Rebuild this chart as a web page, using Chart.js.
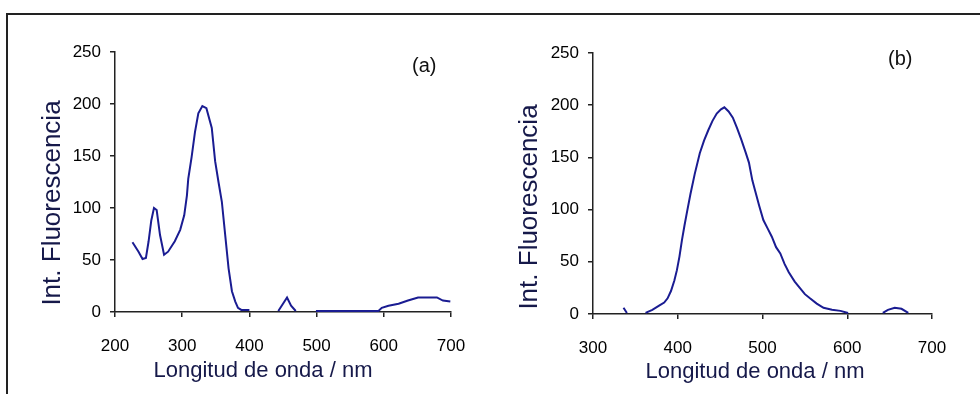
<!DOCTYPE html>
<html>
<head>
<meta charset="utf-8">
<script src="https://cdn.jsdelivr.net/npm/chart.js@4"></script>
<style>
  body { margin: 0; background: #fff; overflow: hidden; }
  #frame { position: absolute; left: 6px; top: 13px; width: 990px; height: 400px;
           border-top: 2px solid #222; border-left: 2px solid #222; }
  .box { position: absolute; top: 0; width: 490px; height: 394px; }
  .tag { position: absolute; font: 20px "Liberation Sans", Arial, sans-serif; line-height: 20px; color: #111; }
</style>
</head>
<body>
<div id="frame"></div>
<div class="box" style="left:0"><canvas id="specA" width="490" height="394"></canvas></div>
<div class="box" style="left:490px"><canvas id="specB" width="490" height="394"></canvas></div>
<div class="tag" style="left:412px;top:55px">(a)</div>
<div class="tag" style="left:888px;top:48px">(b)</div>
<script>
/* ------------------------- */
/* DATA                      */
/* ------------------------- */
// (a) excitation spectrum, null = gap in the trace
const waveA = [226, 235, 241, 246, 250, 254, 258, 262, 267, 273, 279, 289, 297, 303, 307, 309, 314, 319, 324, 330,
  336, 344, 349, 354, 359, 364, 369, 374, 379, 383, 388, 400, 420,
  443, 450, 456, 462, 469, 485,
  499, 520, 560, 592, 597, 607, 622, 636, 651, 665, 679, 688, 699];
const intA = [67, 58, 51, 52, 68, 88, 100, 98, 74, 55, 58, 68, 79, 93, 112, 128, 149, 173, 191, 198,
  196, 177, 145, 125, 106, 74, 42, 20, 10, 4, 2, 2, null,
  1, 8, 14, 6, 1, null,
  1, 1, 1, 1, 4, 6, 8, 11, 14, 14, 14, 11, 10];

// (b) emission spectrum
const waveB = [336, 340, 350, 362, 370, 378, 384, 388, 392, 396, 399, 402, 405, 408, 411, 415, 420, 426, 431, 436,
  441, 446, 451, 455, 460, 465, 470, 475, 480, 484, 488, 491, 496, 501, 506, 511, 516, 521, 526, 531,
  538, 544, 550, 556, 564, 572, 582, 592, 601, 620, 642, 648, 656, 664, 672];
const intB = [6, 1, null, 1, 4, 8, 11, 15, 22, 32, 42, 55, 71, 85, 98, 115, 134, 154, 166, 176,
  185, 192, 196, 198, 194, 188, 178, 167, 155, 145, 128, 119, 104, 90, 82, 74, 64, 58, 48, 40,
  31, 25, 19, 15, 10, 6, 4, 3, 1, null, 1, 4, 6, 5, 1];

const yTicks = [0, 50, 100, 150, 200, 250];
const xTicksA = [200, 300, 400, 500, 600, 700];
const xTicksB = [300, 400, 500, 600, 700];

const xTitle = "Longitud de onda / nm";
const yTitle = "Int. Fluorescencia";

const lineColor = "#1a1c92";
const axisColor = "#222";
const titleColor = "#16194a";
const fontFamily = "'Liberation Sans', Arial, sans-serif";

// axis titles sit off-centre in the original, so draw them ourselves
const axisTitles = {
  id: "axisTitles",
  afterDraw(chart, args, opts) {
    const ctx = chart.ctx;
    ctx.save();
    ctx.fillStyle = titleColor;
    ctx.textAlign = "center";
    ctx.textBaseline = "middle";
    ctx.font = "22px " + fontFamily;
    ctx.fillText(xTitle, opts.xt[0], opts.xt[1]);
    ctx.translate(opts.yt[0], opts.yt[1]);
    ctx.rotate(-Math.PI / 2);
    ctx.font = "26px " + fontFamily;
    ctx.fillText(yTitle, 0, 0);
    ctx.restore();
  }
};

/* ------------------------- */
/* CHART BUILDER             */
/* ------------------------- */
function spectrum(id, xs, ys, xTicks, box) {
  const pts = xs.map((x, i) => ({ x: x, y: ys[i] }));
  return new Chart(document.getElementById(id), {
    type: "line",
    data: {
      datasets: [{
        data: pts,
        borderColor: lineColor,
        borderWidth: 2,
        pointRadius: 0,
        tension: 0,
        spanGaps: false
      }]
    },
    plugins: [axisTitles],
    options: {
      responsive: false,
      animation: false,
      layout: { padding: { left: box.left, top: box.top, right: box.right, bottom: 0 } },
      plugins: {
        legend: { display: false },
        tooltip: { enabled: false },
        axisTitles: { xt: box.xt, yt: box.yt }
      },
      scales: {
        x: {
          type: "linear",
          min: xTicks[0],
          max: xTicks[xTicks.length - 1],
          afterBuildTicks: s => { s.ticks = xTicks.map(v => ({ value: v })); },
          afterFit: s => { s.height = box.xHeight; },
          grid: { drawOnChartArea: false, tickLength: 5, color: axisColor, lineWidth: 1.5 },
          border: { color: axisColor, width: 1.5 },
          ticks: { color: "#000", padding: 19, maxRotation: 0, font: { family: fontFamily, size: 17 } }
        },
        y: {
          min: 0,
          max: 250,
          afterBuildTicks: s => { s.ticks = yTicks.map(v => ({ value: v })); },
          afterFit: s => { s.width = box.yWidth; },
          grid: { drawOnChartArea: false, tickLength: 5, color: axisColor, lineWidth: 1.5 },
          border: { color: axisColor, width: 1.5 },
          ticks: { color: "#000", padding: 9, font: { family: fontFamily, size: 17 } }
        }
      }
    }
  });
}

spectrum("specA", waveA, intA, xTicksA,
  { left: 35, top: 52, right: 39, yWidth: 80, xHeight: 82, xt: [263, 371], yt: [53, 203] });
spectrum("specB", waveB, intB, xTicksB,
  { left: 22, top: 53, right: 48, yWidth: 81, xHeight: 80, xt: [265, 372], yt: [40, 207] });
</script>
</body>
</html>
